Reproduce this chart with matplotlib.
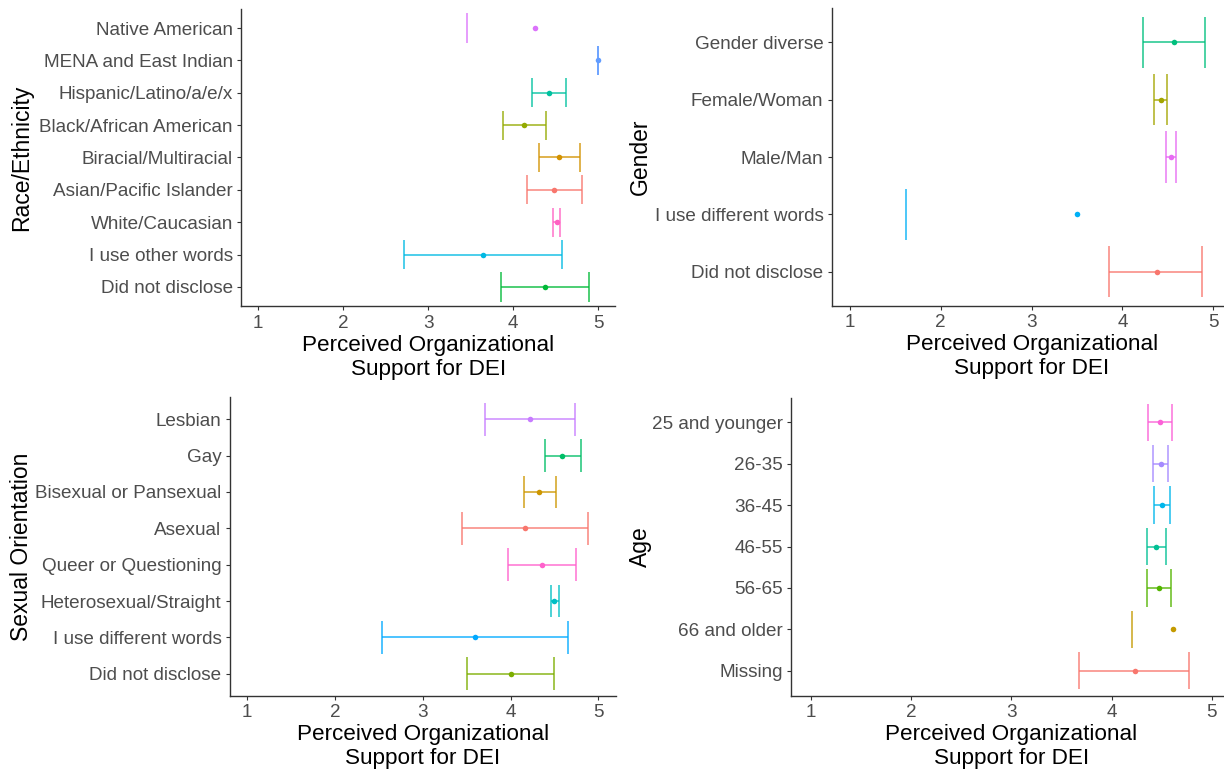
import numpy as np
import matplotlib
matplotlib.use("Agg")
import matplotlib.pyplot as plt

plt.rcParams['font.family'] = ['Liberation Sans', 'DejaVu Sans']

# ---------------- data ----------------
# Race / Ethnicity (top to bottom)
race_labels = ["Native American", "MENA and East Indian", "Hispanic/Latino/a/e/x",
               "Black/African American", "Biracial/Multiracial", "Asian/Pacific Islander",
               "White/Caucasian", "I use other words", "Did not disclose"]
race_mean = [4.25, 5.00, 4.42, 4.12, 4.54, 4.48, 4.51, 3.64, 4.37]
race_lo = [3.45, 5.00, 4.22, 3.88, 4.30, 4.16, 4.47, 2.71, 3.86]
race_hi = [np.nan, 5.00, 4.62, 4.38, 4.79, 4.81, 4.55, 4.57, 4.89]
race_colors = ["#DB72FB", "#619CFF", "#00C19F", "#93AA00", "#D39200",
               "#F8766D", "#FF61C3", "#00B9E3", "#00BA38"]

# Gender
gender_labels = ["Gender diverse", "Female/Woman", "Male/Man",
                 "I use different words", "Did not disclose"]
gender_mean = [4.57, 4.42, 4.53, 3.50, 4.38]
gender_lo = [4.23, 4.35, 4.48, 1.62, 3.85]
gender_hi = [4.91, 4.49, 4.59, np.nan, 4.88]
gender_colors = ["#00BF7D", "#A3A500", "#E76BF3", "#00B0F6", "#F8766D"]

# Sexual orientation
so_labels = ["Lesbian", "Gay", "Bisexual or Pansexual", "Asexual",
             "Queer or Questioning", "Heterosexual/Straight",
             "I use different words", "Did not disclose"]
so_mean = [4.22, 4.59, 4.33, 4.17, 4.36, 4.50, 3.60, 4.00]
so_lo = [3.71, 4.39, 4.15, 3.45, 3.97, 4.46, 2.54, 3.50]
so_hi = [4.74, 4.80, 4.52, 4.88, 4.75, 4.55, 4.66, 4.50]
so_colors = ["#C77CFF", "#00BE67", "#CD9600", "#F8766D", "#FF61CC",
             "#00BFC4", "#00A9FF", "#7CAE00"]

# Age
age_labels = ["25 and younger", "26-35", "36-45", "46-55", "56-65",
              "66 and older", "Missing"]
age_mean = [4.48, 4.49, 4.50, 4.44, 4.47, 4.61, 4.23]
age_lo = [4.36, 4.41, 4.42, 4.35, 4.35, 4.20, 3.68]
age_hi = [4.60, 4.56, 4.58, 4.54, 4.59, np.nan, 4.77]
age_colors = ["#FB61D7", "#A58AFF", "#00B6EB", "#00C094", "#53B400",
              "#C49A00", "#F8766D"]

x_ticks = [1, 2, 3, 4, 5]
x_title = "Perceived Organizational\nSupport for DEI"

# ---------------- layout ----------------
W, H = 1224, 770
fig = plt.figure(figsize=(W / 100, H / 100), dpi=100)


def rect(L, R, T, B):
    return [L / W, (H - B) / H, (R - L) / W, (B - T) / H]


panels = [
    (rect(241.3, 615.3, 8.6, 306.4), race_labels, race_mean, race_lo, race_hi,
     race_colors, "Race/Ethnicity", 22),
    (rect(831.8, 1231.5, 7.9, 306.1), gender_labels, gender_mean, gender_lo,
     gender_hi, gender_colors, "Gender", 640),
    (rect(229.75, 615.8, 397.5, 695.5), so_labels, so_mean, so_lo, so_hi,
     so_colors, "Sexual Orientation", 22),
    (rect(791.0, 1231.7, 397.5, 695.5), age_labels, age_mean, age_lo, age_hi,
     age_colors, "Age", 640),
]

for pos, labels, means, los, his, cols, ytitle, ytx in panels:
    ax = fig.add_axes(pos)
    n = len(labels)
    ys = np.arange(n, 0, -1)
    half = 0.45
    for y, m, lo, hi, c in zip(ys, means, los, his, cols):
        kw = dict(color=c, lw=1.4, alpha=0.7, solid_capstyle='butt')
        if np.isnan(hi):
            ax.plot([lo, lo], [y - half, y + half], **kw)
        else:
            ax.plot([lo, hi], [y, y], **kw)
            ax.plot([lo, lo], [y - half, y + half], **kw)
            ax.plot([hi, hi], [y - half, y + half], **kw)
        ax.plot([m], [y], 'o', color=c, ms=4, mec='none', zorder=3)
    ax.set_xlim(0.8, 5.2)
    ax.set_ylim(0.4, n + 0.6)
    ax.set_xticks(x_ticks)
    ax.set_xticklabels([str(t) for t in x_ticks])
    ax.set_yticks(ys)
    ax.set_yticklabels(labels)
    for s in ['top', 'right']:
        ax.spines[s].set_visible(False)
    for s in ['left', 'bottom']:
        ax.spines[s].set_color('#333333')
        ax.spines[s].set_linewidth(1.0)
    ax.tick_params(axis='both', colors='#333333', length=3, width=0.8,
                   labelsize=13.6, labelcolor='#4D4D4D')
    ax.tick_params(axis='y', pad=3)
    ax.tick_params(axis='x', pad=3)
    ax.set_xlabel(x_title, fontsize=16.2, color='black', labelpad=2,
                  linespacing=1.2)
    ax.set_ylabel(ytitle, fontsize=16.5, color='black')
    bb = ax.get_position()
    ax.yaxis.set_label_coords(ytx / W, bb.y0 + bb.height / 2,
                              transform=fig.transFigure)
    ax.yaxis.label.set_va('center')
    ax.set_facecolor('white')

fig.savefig("out.png", dpi=100, facecolor='white')
